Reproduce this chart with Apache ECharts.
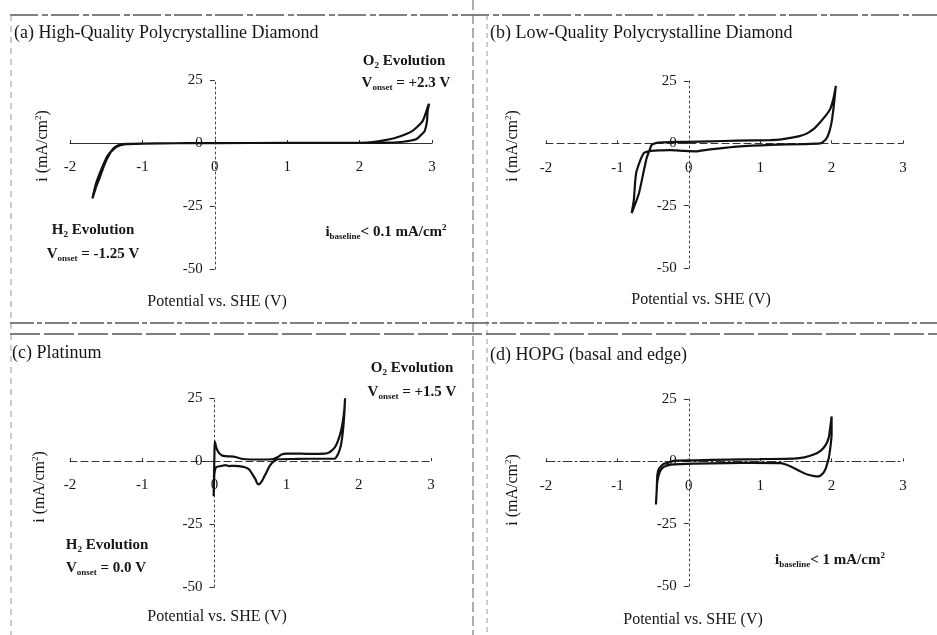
<!DOCTYPE html>
<html>
<head>
<meta charset="utf-8">
<script src="https://cdn.jsdelivr.net/npm/echarts@6/dist/echarts.min.js"></script>
<style>
html,body{margin:0;padding:0;background:#fff;}
#chart{width:937px;height:635px;}
</style>
</head>
<body>
<div id="chart"></div>
<script>
// Shared axis ranges (V vs. SHE, mA/cm2)
const potentialRange = [-2, 3];
const potentialStep = 1;
const currentRange = [-50, 25];
const currentStep = 25;

// (a) High-quality polycrystalline diamond
const hqPotential = [-1.69, -1.64, -1.59, -1.54, -1.50, -1.45, -1.41, -1.36, -1.31, -1.20, -1.00, -0.60, -0.20, 0.50, 1.50, 2.20, 2.40, 2.60, 2.78, 2.86, 2.90, 2.93, 2.94, 2.96,
                     2.95, 2.87, 2.73, 2.50, 2.28, 2.10, 1.50, 0.50, -0.50, -1.00, -1.25, -1.33, -1.40, -1.48, -1.56, -1.64, -1.69];
const hqCurrent   = [-22.0, -17.5, -13.8, -9.8, -7.0, -4.2, -2.5, -1.3, -0.6, -0.3, -0.2, -0.1, 0.0, 0.0, 0.0, 0.05, 0.15, 0.5, 1.5, 3.5, 4.8, 8.5, 12.7, 15.6,
                     15.0, 8.7, 4.8, 2.1, 0.8, 0.2, 0.05, 0.0, -0.1, -0.3, -0.6, -1.2, -2.5, -5.0, -10.0, -16.0, -22.0];

// (b) Low-quality polycrystalline diamond
const lqPotential = [-0.80, -0.70, -0.63, -0.59, -0.54, -0.52, -0.45, -0.35, -0.26, 0.00, 0.30, 0.67, 1.14, 1.30, 1.42, 1.55, 1.65, 1.75, 1.84, 1.92, 1.98, 2.03, 2.05, 2.06,
                     2.05, 2.04, 2.02, 2.00, 1.97, 1.93, 1.88, 1.84, 1.60, 1.14, 0.67, 0.40, 0.20, 0.11, -0.07, -0.26, -0.40, -0.52, -0.63, -0.73, -0.75, -0.77, -0.80];
const lqCurrent   = [-28.0, -20.2, -11.0, -5.9, -2.0, -0.6, 0.2, 0.4, 0.5, 0.6, 0.8, 1.05, 1.3, 1.6, 2.2, 2.9, 3.9, 5.8, 8.5, 11.2, 13.7, 18.5, 21.5, 23.0,
                     20.5, 17.6, 12.5, 8.5, 4.8, 2.0, 0.6, 0.0, -0.3, -0.6, -1.3, -2.1, -2.8, -3.2, -3.0, -2.7, -2.8, -3.0, -3.9, -11.0, -15.0, -22.8, -28.0];

// (c) Platinum
const ptPotential = [-0.01, -0.005, 0.00, 0.005, 0.03, 0.06, 0.10, 0.15, 0.22, 0.29, 0.36, 0.43, 0.60, 0.80, 0.88, 0.93, 1.00, 1.20, 1.35, 1.52, 1.58, 1.62, 1.67, 1.71, 1.75, 1.78, 1.80, 1.81,
                     1.80, 1.78, 1.75, 1.71, 1.66, 1.50, 1.30, 1.10, 0.89, 0.84, 0.80, 0.76, 0.73, 0.69, 0.66, 0.63, 0.61, 0.59, 0.57, 0.52, 0.48, 0.41, 0.34, 0.27, 0.20, 0.15, 0.09, 0.05, 0.02, 0.00, -0.01];
const ptCurrent   = [-14.0, -5.0, 2.0, 7.8, 5.0, 3.3, 2.3, 1.9, 1.8, 1.6, 1.0, 0.7, 0.6, 0.7, 1.6, 2.6, 2.9, 2.9, 2.8, 2.9, 3.3, 4.0, 5.5, 7.9, 11.5, 15.9, 20.5, 24.9,
                     19.0, 11.9, 6.0, 2.6, 0.9, 0.9, 0.9, 0.8, 0.7, 0.2, -0.7, -2.2, -4.0, -6.2, -7.9, -9.0, -9.3, -8.7, -7.3, -5.0, -3.3, -2.4, -2.0, -1.9, -2.0, -1.6, -2.0, -2.2, -2.6, -5.0, -14.0];

// (d) HOPG (basal and edge)
const hopgPotential = [-0.46, -0.45, -0.44, -0.42, -0.39, -0.35, -0.30, -0.24, -0.18, 0.10, 0.54, 1.00, 1.47, 1.62, 1.75, 1.85, 1.92, 1.96, 1.98, 2.00,
                       2.00, 2.00, 1.98, 1.96, 1.94, 1.92, 1.88, 1.82, 1.76, 1.66, 1.56, 1.47, 1.38, 1.29, 0.90, 0.54, 0.07, -0.25, -0.33, -0.37, -0.41, -0.44, -0.45, -0.46];
const hopgCurrent   = [-17.3, -12.0, -5.3, -3.0, -2.0, -1.0, -0.7, 0.0, 0.3, 0.4, 0.7, 0.9, 1.1, 1.6, 2.7, 4.3, 6.7, 9.5, 13.3, 18.0,
                       14.0, 10.7, 5.0, 1.3, -0.8, -2.7, -4.8, -6.0, -5.9, -5.3, -4.0, -2.7, -1.5, -0.7, -0.6, -0.7, -0.9, -1.3, -2.0, -2.7, -4.5, -8.0, -12.0, -17.3];

const panels = [
  { x: hqPotential,   y: hqCurrent,   grid: { left: 70,  top: 80,  width: 362, height: 189 }, xLine: 'solid' },
  { x: lqPotential,   y: lqCurrent,   grid: { left: 546, top: 81,  width: 357, height: 187 }, xLine: [7, 4] },
  { x: ptPotential,   y: ptCurrent,   grid: { left: 70,  top: 398, width: 361, height: 189 }, xLine: [7, 4] },
  { x: hopgPotential, y: hopgCurrent, grid: { left: 546, top: 399, width: 357, height: 187 }, xLine: [9, 3, 2, 3] }
];

const FONT = '"Liberation Serif", "Times New Roman", serif';
const INK = '#161616';

// The two axes cross at the origin: shift each one from the grid edge
// by the fraction of the range that lies below / left of zero.
const zeroFracX = (0 - potentialRange[0]) / (potentialRange[1] - potentialRange[0]);
const zeroFracY = (0 - currentRange[0]) / (currentRange[1] - currentRange[0]);

const grids = [], xAxes = [], yAxes = [], series = [];
panels.forEach((p, i) => {
  grids.push(Object.assign({ containLabel: false }, p.grid));
  xAxes.push({
    gridIndex: i, type: 'value', position: 'bottom',
    offset: -p.grid.height * zeroFracY,
    min: potentialRange[0], max: potentialRange[1], interval: potentialStep,
    axisLine: { onZero: false, lineStyle: { color: '#333', width: 1, type: p.xLine } },
    axisTick: { show: true, length: 3, inside: true, lineStyle: { color: '#333' } },
    axisLabel: { margin: 17, fontSize: 15, color: INK, fontFamily: FONT },
    splitLine: { show: false }
  });
  yAxes.push({
    gridIndex: i, type: 'value', position: 'left',
    offset: -p.grid.width * zeroFracX,
    min: currentRange[0], max: currentRange[1], interval: currentStep,
    axisLine: { onZero: false, lineStyle: { color: '#444', width: 1, type: [2, 3] } },
    axisTick: { show: true, length: 5, lineStyle: { color: '#333' } },
    axisLabel: { margin: 12, fontSize: 15, color: INK, fontFamily: FONT },
    splitLine: { show: false }
  });
  series.push({
    type: 'line', xAxisIndex: i, yAxisIndex: i,
    data: p.x.map((v, k) => [v, p.y[k]]),
    showSymbol: false, smooth: 0.2,
    lineStyle: { color: '#111', width: 2.2 }
  });
});

// Annotation helpers
function txt(x, y, text, opts) {
  opts = opts || {};
  return {
    type: 'text', x: x, y: y, rotation: opts.rotation || 0, silent: true,
    style: {
      text: text, fill: INK,
      fontFamily: FONT, fontSize: opts.size || 15, fontWeight: opts.weight || 'normal',
      align: opts.align || 'center', verticalAlign: 'middle',
      rich: {
        b:   { fontFamily: FONT, fontSize: opts.size || 15, fontWeight: 'bold', lineHeight: 18, fill: INK },
        r:   { fontFamily: FONT, fontSize: opts.size || 15, fontWeight: 'normal', lineHeight: 18, fill: INK },
        sub: { fontFamily: FONT, fontSize: 9, fontWeight: 'bold', verticalAlign: 'bottom', lineHeight: 18, fill: INK },
        sup: { fontFamily: FONT, fontSize: 9, fontWeight: 'normal', verticalAlign: 'top', lineHeight: 18, fill: INK },
        supb:{ fontFamily: FONT, fontSize: 9, fontWeight: 'bold', verticalAlign: 'top', lineHeight: 18, fill: INK }
      }
    }
  };
}
function rule(x1, y1, x2, y2, dash, w, c) {
  return { type: 'line', silent: true, shape: { x1: x1, y1: y1, x2: x2, y2: y2 },
           style: { stroke: c || '#555', lineWidth: w || 1.2, lineDash: dash } };
}

const yName = '{r|i (mA/cm}{sup|2}{r|)}';
const xName = 'Potential vs. SHE (V)';

const graphics = [
  // panel frame
  rule(10, 15, 937, 15, [28, 4, 6, 3], 1.4, '#555'),
  rule(11, 15, 11, 635, [6, 5], 1, '#999'),
  rule(473, 0, 473, 635, [10, 4], 1.2, '#777'),
  rule(487, 15, 487, 635, [5, 4], 1, '#999'),
  rule(10, 323, 937, 323, [24, 3, 5, 3], 1.3, '#555'),
  rule(10, 334, 937, 334, [30, 4], 1.3, '#555'),

  // (a)
  txt(14, 33, '(a) High-Quality Polycrystalline Diamond', { size: 18, align: 'left' }),
  txt(404, 61, '{b|O}{sub|2}{b| Evolution}'),
  txt(406, 83, '{b|V}{sub|onset}{b| = +2.3 V}'),
  txt(93, 230, '{b|H}{sub|2}{b| Evolution}'),
  txt(93, 254, '{b|V}{sub|onset}{b| = -1.25 V}'),
  txt(386, 232, '{b|i}{sub|baseline}{b|< 0.1 mA/cm}{supb|2}'),
  txt(43, 146, yName, { size: 16, rotation: Math.PI / 2 }),
  txt(217, 302, xName, { size: 16 }),

  // (b)
  txt(490, 33, '(b) Low-Quality Polycrystalline Diamond', { size: 18, align: 'left' }),
  txt(513, 146, yName, { size: 16, rotation: Math.PI / 2 }),
  txt(701, 300, xName, { size: 16 }),

  // (c)
  txt(12, 353, '(c) Platinum', { size: 18, align: 'left' }),
  txt(412, 368, '{b|O}{sub|2}{b| Evolution}'),
  txt(412, 392, '{b|V}{sub|onset}{b| = +1.5 V}'),
  txt(107, 545, '{b|H}{sub|2}{b| Evolution}'),
  txt(106, 568, '{b|V}{sub|onset}{b| = 0.0 V}'),
  txt(40, 487, yName, { size: 16, rotation: Math.PI / 2 }),
  txt(217, 617, xName, { size: 16 }),

  // (d)
  txt(490, 355, '(d) HOPG (basal and edge)', { size: 18, align: 'left' }),
  txt(830, 560, '{b|i}{sub|baseline}{b|< 1 mA/cm}{supb|2}'),
  txt(513, 490, yName, { size: 16, rotation: Math.PI / 2 }),
  txt(693, 620, xName, { size: 16 })
];

const chart = echarts.init(document.getElementById('chart'), null, { renderer: 'canvas' });
chart.setOption({
  animation: false,
  backgroundColor: '#ffffff',
  textStyle: { fontFamily: FONT },
  grid: grids,
  xAxis: xAxes,
  yAxis: yAxes,
  series: series,
  graphic: graphics
});
</script>
</body>
</html>
